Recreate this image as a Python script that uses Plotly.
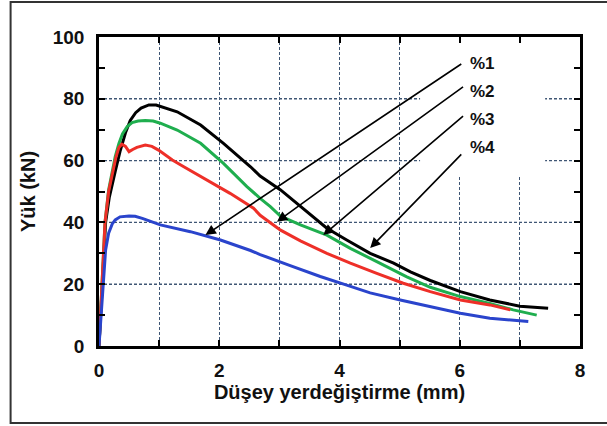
import plotly.graph_objects as go

# Load–displacement curves for four mixes (%1 .. %4)
disp_1 = [0, 0.03, 0.06, 0.08, 0.11, 0.16, 0.22, 0.27, 0.35, 0.5, 0.6, 0.72, 0.85, 1.02, 1.52,
          2.02, 2.52, 2.68, 3.18, 3.68, 4.12, 4.51, 5.01, 5.51, 6.01, 6.5, 7.14]
load_1 = [0, 8, 16, 20.3, 31.1, 36.5, 39.5, 40.8, 41.8, 42.1, 42.0, 41.3, 40.5, 39.2, 37.0,
          34.3, 30.9, 29.6, 26.0, 22.5, 19.7, 17.2, 14.9, 12.7, 10.6, 9.0, 7.9]

disp_2 = [0, 0.03, 0.06, 0.1, 0.16, 0.22, 0.28, 0.33, 0.38, 0.44, 0.5, 0.56, 0.63, 0.77, 0.88,
          0.99, 1.22, 1.41, 1.8, 2.18, 2.57, 2.68, 3.02, 3.35, 3.79, 4.18, 4.62, 5.06, 5.51, 6.01,
          6.5, 6.84]
load_2 = [0, 12, 26, 40, 50, 56, 61, 64.2, 65.3, 64.6, 62.9, 63.6, 64.3, 65.0, 64.6,
          63.4, 60.2, 58.0, 53.7, 49.4, 44.6, 42.3, 37.5, 34.0, 30.0, 26.8, 23.5, 20.3, 17.6, 14.9,
          13.3, 11.7]

disp_3 = [0, 0.03, 0.06, 0.1, 0.16, 0.22, 0.27, 0.33, 0.39, 0.47, 0.55, 0.65, 0.77, 0.9, 1.02,
          1.3, 1.69, 2.07, 2.46, 2.68, 2.85, 3.02, 3.35, 3.79, 4.18, 4.62, 5.12, 5.51, 6.01, 6.5,
          6.89, 7.28]
load_3 = [0, 12, 26, 40, 50.5, 57, 61.3, 65.5, 68.6, 71, 72.3, 72.8, 73.0, 72.8, 72.1,
          69.9, 65.6, 59.1, 51.6, 47.8, 45.1, 42.0, 39.2, 35.9, 31.6, 27.3, 22.4, 19.0, 16.0, 13.8,
          11.7, 10.0]

disp_4 = [0, 0.03, 0.06, 0.11, 0.17, 0.22, 0.27, 0.35, 0.44, 0.52, 0.61, 0.7, 0.83, 0.95, 1.05,
          1.3, 1.69, 2.07, 2.52, 2.68, 3.02, 3.35, 3.63, 3.79, 4.12, 4.51, 4.9, 5.18, 5.51, 6.01,
          6.5, 7.0, 7.47]
load_4 = [0, 10, 22, 40, 48, 52.5, 56.5, 63, 69, 73, 75.5, 77, 78, 78, 77.4,
          75.8, 71.5, 65.6, 58.0, 55.0, 50.5, 45.1, 40.8, 38.1, 34.3, 30.0, 26.8, 24.0, 21.2, 17.6,
          14.9, 12.9, 12.2]

series_names = ["%1", "%2", "%3", "%4"]
series_x = [disp_1, disp_2, disp_3, disp_4]
series_y = [load_1, load_2, load_3, load_4]
series_colors = ["#2a44cc", "#ee2f28", "#1fae4e", "#000000"]

# Callout labels: text anchor (x, y), arrow tail (x, y) and arrow head (x, y)
label_pos = [(6.14, 91.3), (6.14, 82.3), (6.14, 73.4), (6.14, 64.4)]
arrow_tail = [(6.05, 91.6), (6.08, 84.2), (6.08, 74.8), (6.05, 62.5)]
arrow_head = [(1.77, 35.9), (2.96, 40.2), (3.73, 35.9), (4.51, 31.7)]

x_ticks = [0, 1, 2, 3, 4, 5, 6, 7, 8]
x_ticktext = ["0", "", "2", "", "4", "", "6", "", "8"]
y_ticks = [0, 10, 20, 30, 40, 50, 60, 70, 80, 90, 100]
y_ticktext = ["0", "", "20", "", "40", "", "60", "", "80", "", "100"]
y_grid = [20, 40, 60, 80]

FONT = "Arial, Liberation Sans, sans-serif"
GRID = "#3f5674"

fig = go.Figure()
# Draw in reverse so the lowest-load curve ends up on top
for name, xs, ys, col in list(zip(series_names, series_x, series_y, series_colors))[::-1]:
    fig.add_trace(go.Scatter(x=xs, y=ys, mode="lines", name=name,
                             line=dict(color=col, width=3), showlegend=False))

annotations = []
for name, (lx, ly), (tx, ty), (hx, hy) in zip(series_names, label_pos, arrow_tail, arrow_head):
    annotations.append(dict(x=hx, y=hy, ax=tx, ay=ty, xref="x", yref="y", axref="x", ayref="y",
                            text="", showarrow=True, arrowhead=2, arrowsize=1.3, arrowwidth=1.6,
                            arrowcolor="black", standoff=0, startstandoff=0))
    annotations.append(dict(x=lx, y=ly, xref="x", yref="y", text=name, showarrow=False,
                            xanchor="left", yanchor="middle",
                            font=dict(family=FONT, size=17, color="#111", weight="bold")))

shapes = []
# horizontal dashed grid at every 20 kN
for gy in y_grid:
    shapes.append(dict(type="line", xref="x domain", yref="y", x0=0, x1=1, y0=gy, y1=gy,
                       line=dict(color=GRID, width=1.4, dash="3px,2px"), layer="below"))
shapes += [
    # blank panel behind the callout labels
    dict(type="rect", xref="x", yref="y", x0=5.34, x1=7.42, y0=54.7, y1=100,
         fillcolor="white", line=dict(width=0), layer="between"),
    # outer frame
    dict(type="rect", xref="paper", yref="paper", x0=-0.1838, x1=1.062, y0=-0.2492, y1=1.1133,
         line=dict(color="#333333", width=2), fillcolor="rgba(0,0,0,0)", layer="above"),
]

fig.update_layout(
    width=607, height=426,
    margin=dict(l=98.5, r=27, t=37, b=80),
    paper_bgcolor="white", plot_bgcolor="white",
    annotations=annotations, shapes=shapes,
    font=dict(family=FONT, color="#111"),
)

fig.update_xaxes(
    range=[0, 8], tickvals=x_ticks, ticktext=x_ticktext,
    showline=True, linecolor="black", linewidth=2.5, mirror="ticks",
    ticks="inside", ticklen=6, tickwidth=2, tickcolor="black",
    showgrid=True, gridcolor=GRID, gridwidth=1.4, griddash="3px,2px",
    zeroline=False,
    tickfont=dict(family=FONT, size=19, color="#111", weight="bold"),
    ticklabelstandoff=5,
    title=dict(text="Düşey yerdeğiştirme (mm)", standoff=5,
               font=dict(family=FONT, size=20, color="#111", weight="bold")),
)
fig.update_yaxes(
    range=[0, 100], tickvals=y_ticks, ticktext=y_ticktext,
    showline=True, linecolor="black", linewidth=2.5, mirror="ticks",
    ticks="inside", ticklen=6, tickwidth=2, tickcolor="black",
    showgrid=False, zeroline=False,
    tickfont=dict(family=FONT, size=19, color="#111", weight="bold"),
    ticklabelstandoff=8,
    title=dict(text="Yük (kN)", standoff=12,
               font=dict(family=FONT, size=20, color="#111", weight="bold")),
)

fig.write_html("out.html")
